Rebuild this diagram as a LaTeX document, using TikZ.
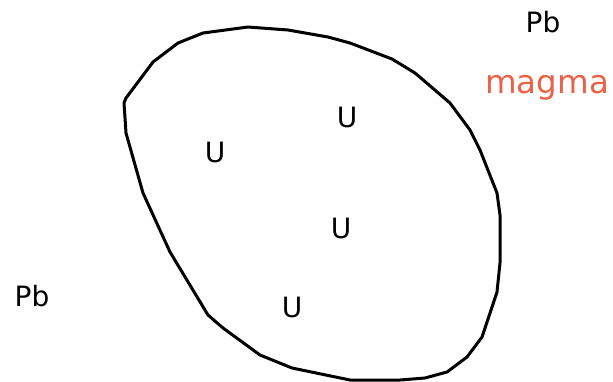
\documentclass[tikz,border=0pt]{standalone}
\usepackage{fontspec}
\setmainfont{DejaVu Sans}
\definecolor{magmared}{RGB}{234,98,72}

\begin{document}
\begin{tikzpicture}[x=1pt,y=-1pt]
  \useasboundingbox (0,0) rectangle (613,381);
  % outline of the magma body
  \draw[line width=3pt,line join=round]
    (126,98) -- (153,62) -- (178,43) -- (203,33) -- (248,27) -- (288,30)
    -- (328,37) -- (350,43) -- (392,59) -- (415,73) -- (450,103) -- (470,130)
    -- (480,150) -- (497,193) -- (500,215) -- (500,263) -- (497,292)
    -- (482,337) -- (467,357) -- (447,372) -- (425,378) -- (400,380)
    -- (350,380) -- (292,368) -- (260,355) -- (223,328) -- (208,315)
    -- (170,252) -- (143,193) -- (126,133) -- (124,103) -- cycle;
  \foreach \n/\x/\y in {a/347/117,b/215/152,c/341/228,d/292/307} {
    \node[font=\fontsize{28}{30}\selectfont] (u\n) at (\x,\y) {U};
  }
  \node[font=\fontsize{28}{30}\selectfont] (pbtop) at (543,22) {Pb};
  \node[font=\fontsize{28}{30}\selectfont] (pbleft) at (32,296) {Pb};
  \node[font=\fontsize{32.5}{34}\selectfont,text=magmared,anchor=base west,inner sep=0pt] (magma) at (485,93) {magma};
\end{tikzpicture}
\end{document}
